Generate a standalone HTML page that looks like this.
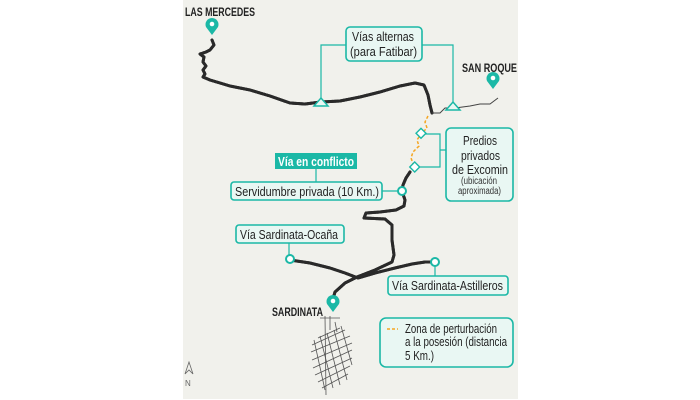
<!DOCTYPE html>
<html><head><meta charset="utf-8"><style>
html,body{margin:0;padding:0;background:#fff;}
svg{display:block;font-family:"Liberation Sans",sans-serif;}
.b{fill:#e9f7f3;stroke:#1bb8a6;stroke-width:1.6;}
.t{font-size:13px;fill:#222;}
.road{fill:none;stroke:#2a2a2a;stroke-width:3;stroke-linejoin:round;stroke-linecap:round;}
.road2{fill:none;stroke:#bbb;stroke-width:1;stroke-dasharray:1.5 1.5;}
.ln{fill:none;stroke:#1bb8a6;stroke-width:1.2;}
</style></head><body>
<svg width="700" height="400" viewBox="0 0 700 400">
<rect x="183" y="0" width="335" height="399" fill="#f1f1ec"/>
<g>
<path id="r1" class="road" d="M212,40 L214,45 L210,50 L206,52 L200,54 L204,57 L203,62 L206,66 L203,70 L205,74 L203,77 L210,80 L230,86 L250,90 L270,96 L290,103 L305,104 L321,102 L340,101 L360,97 L380,92 L400,86 L415,83 L424,85 L428,95 L430,105 L432,113"/>
<path id="r2" class="road" d="M410,172 L406,178 L403,185 L402,191 L405,200 L404,206 L396,210 L380,212 L366,213 L364,218 L385,219 L392,225 L392,240 L394,255 L392,262 L375,270 L357,277 L345,283 L335,292 L332,302"/>
<path id="r3" class="road" d="M290,260 L310,263 L330,268 L345,273 L358,278 L375,273 L395,268 L412,264 L425,262 L433,262"/>
</g>
<use href="#r1" class="road2"/><use href="#r2" class="road2"/><use href="#r3" class="road2"/>
<path d="M432,113 L440,113 L445,108 L455,108 L470,106 L480,104 L490,104 L498,98" fill="none" stroke="#444" stroke-width="1"/>
<path d="M428,116 L425,122 L427,128 L421,134 L417,140 L419,146 L413,152 L411,158 L414,166" fill="none" stroke="#f5a623" stroke-width="1.5" stroke-dasharray="3 2"/>
<g stroke="#555" stroke-width="0.8" fill="none">
<path d="M325,316 L326,395 M330,316 L330,330 M320,318 L340,318"/>
<path d="M312,345 L345,330 M311,352 L350,336 M312,360 L352,343 M313,368 L352,350 M315,375 L352,358 M318,382 L350,366 M322,388 L348,374 M318,338 L340,328"/>
<path d="M314,340 L325,390 M320,336 L333,388 M327,333 L340,385 M334,330 L347,380 M341,326 L352,365 M335,322 L337,332"/>
</g>
<path class="ln" d="M346,45 L321,45 L321,98 M422,45 L453,45 L453,103"/>
<path class="ln" d="M424,134 L440,134 L440,167 L418,167 M440,150 L446,150"/>
<path class="ln" d="M316,169 L316,182 M382,191 L398,191 M289,243 L289,257 M435,266 L435,276"/>
<path d="M314,106 L321,98 L328,106 Z" fill="#e9f7f3" stroke="#1bb8a6" stroke-width="1.5"/>
<path d="M446,110 L453,102 L460,110 Z" fill="#e9f7f3" stroke="#1bb8a6" stroke-width="1.5"/>
<rect x="417" y="130" width="7" height="7" transform="rotate(45 421 134)" fill="#fff" stroke="#1bb8a6" stroke-width="1.4"/>
<rect x="411" y="163" width="7" height="7" transform="rotate(45 414 167)" fill="#fff" stroke="#1bb8a6" stroke-width="1.4"/>
<circle cx="402" cy="191" r="4" fill="#fff" stroke="#1bb8a6" stroke-width="2"/>
<circle cx="290" cy="259" r="4" fill="#fff" stroke="#1bb8a6" stroke-width="2"/>
<circle cx="435" cy="262" r="4" fill="#fff" stroke="#1bb8a6" stroke-width="2"/>
<g fill="#1bb8a6">
<path d="M212,35 L206,27 A6.5,6.5 0 1 1 218,27 Z"/><circle cx="212" cy="24" r="2.3" fill="#fff"/>
<path d="M493,89 L487,81 A6.5,6.5 0 1 1 499,81 Z"/><circle cx="493" cy="78" r="2.3" fill="#fff"/>
<path d="M333,312 L327,304 A6.5,6.5 0 1 1 339,304 Z"/><circle cx="333" cy="301" r="2.3" fill="#fff"/>
</g>
<g font-weight="bold" font-size="12" fill="#222" lengthAdjust="spacingAndGlyphs">
<text x="185" y="16" textLength="70" lengthAdjust="spacingAndGlyphs">LAS MERCEDES</text>
<text x="462" y="72" textLength="55" lengthAdjust="spacingAndGlyphs">SAN ROQUE</text>
<text x="272" y="316" textLength="51" lengthAdjust="spacingAndGlyphs">SARDINATA</text>
</g>
<rect class="b" x="346" y="27" width="76" height="34" rx="4"/>
<text class="t" x="352" y="41" textLength="62" lengthAdjust="spacingAndGlyphs">Vías alternas</text>
<text class="t" x="350" y="56" textLength="67" lengthAdjust="spacingAndGlyphs">(para Fatibar)</text>
<rect class="b" x="446" y="128" width="67" height="73" rx="5"/>
<g class="t" font-size="15">
<text x="463" y="145" textLength="34" lengthAdjust="spacingAndGlyphs">Predios</text>
<text x="461" y="160" textLength="39" lengthAdjust="spacingAndGlyphs">privados</text>
<text x="452" y="174" textLength="56" lengthAdjust="spacingAndGlyphs">de Excomin</text></g>
<g font-size="10" fill="#333">
<text x="461" y="184" textLength="36" lengthAdjust="spacingAndGlyphs">(ubicación</text>
<text x="458" y="194" textLength="43" lengthAdjust="spacingAndGlyphs">aproximada)</text></g>
<rect x="275" y="153" width="82" height="16" fill="#1bb8a6"/>
<text x="278" y="166" font-size="13" font-weight="bold" fill="#fff" textLength="76" lengthAdjust="spacingAndGlyphs">Vía en conflicto</text>
<rect class="b" x="231" y="182" width="151" height="18" rx="3"/>
<text class="t" x="235" y="196" textLength="144" lengthAdjust="spacingAndGlyphs">Servidumbre privada (10 Km.)</text>
<rect class="b" x="236" y="225" width="108" height="18" rx="3"/>
<text class="t" x="240" y="239" textLength="98" lengthAdjust="spacingAndGlyphs">Vía Sardinata-Ocaña</text>
<rect class="b" x="388" y="276" width="120" height="19" rx="3"/>
<text class="t" x="392" y="290" textLength="111" lengthAdjust="spacingAndGlyphs">Vía Sardinata-Astilleros</text>
<rect class="b" x="380" y="318" width="133" height="49" rx="6" fill="#f1f1ec"/>
<path d="M387,329 L398,329" stroke="#f5a623" stroke-width="1.5" stroke-dasharray="3 2"/>
<g class="t" font-size="12.5">
<text x="405" y="333" textLength="92" lengthAdjust="spacingAndGlyphs">Zona de perturbación</text>
<text x="405" y="346" textLength="102" lengthAdjust="spacingAndGlyphs">a la posesión (distancia</text>
<text x="405" y="360" textLength="29" lengthAdjust="spacingAndGlyphs">5 Km.)</text></g>
<path d="M185,374 L189,362 L193,374 L189,370 Z" fill="none" stroke="#666" stroke-width="0.8"/>
<text x="185" y="386" font-size="8" fill="#666">N</text>
</svg>
</body></html>
